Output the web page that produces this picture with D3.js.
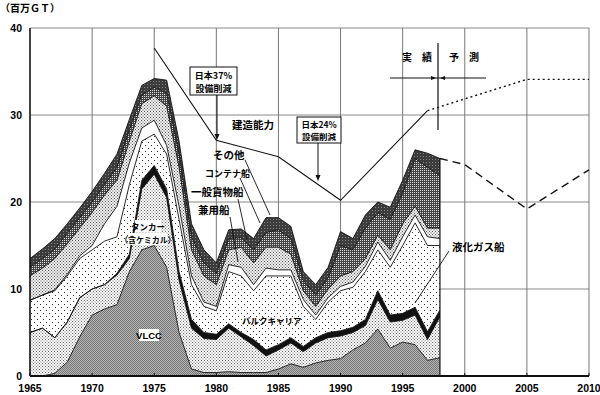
<!DOCTYPE html>
<html>
<head>
<meta charset="utf-8">
<script src="https://cdn.jsdelivr.net/npm/d3@7"></script>
<style>
body { margin:0; background:#fff; }
text { font-family: "Liberation Sans", "Noto Sans CJK JP", sans-serif; font-weight:bold; }
.jp { font-family: "Noto Sans CJK JP", sans-serif; }
</style>
</head>
<body>
<svg id="chart" width="600" height="395"></svg>
<script>

// years with actual figures
var years = [1965,1966,1967,1968,1969,1970,1971,1972,1973,1974,1975,1976,1977,1978,1979,1980,1981,
             1982,1983,1984,1985,1986,1987,1988,1989,1990,1991,1992,1993,1994,1995,1996,1997,1998];

// stacked series, bottom to top (百万GT)
var vlcc      = [0,0,0.3,1.6,4.5,7.0,7.7,8.2,12.0,14.5,15.0,12.5,5.0,0.8,0.4,0.4,0.5,0.4,0.4,0.4,0.8,1.4,1.0,1.5,1.8,2.0,3.0,3.8,5.4,3.2,3.9,3.6,1.8,2.1];
var tanker    = [5.0,5.5,4.1,4.6,4.5,3.0,2.8,3.4,1.5,7.0,8.2,8.0,6.0,4.7,3.9,3.8,5.0,4.1,3.1,1.9,2.2,2.4,1.8,2.3,2.6,2.6,2.0,2.0,3.4,3.0,2.5,3.4,2.4,4.7];
var lng       = [0,0,0,0,0,0,0,0.2,0.5,1.0,1.0,1.0,1.0,1.0,0.7,0.6,0.5,0.5,0.7,0.7,0.6,0.6,0.6,0.6,0.6,0.6,0.6,0.7,1.0,0.8,0.8,0.9,0.9,0.8];
var bulk      = [3.7,3.8,5.4,5.3,4.5,4.5,5.0,4.2,8.0,4.5,3.6,4.0,6.0,4.0,3.0,2.7,6.0,6.5,5.6,8.5,7.9,7.1,4.6,2.1,3.5,4.6,4.6,5.5,4.7,5.5,7.8,9.7,9.9,7.4];
var combo     = [0,0,0.1,0.2,0.3,0.5,2.0,3.5,2.5,1.5,1.6,1.0,1.5,1.0,0.5,0.5,0.8,1.0,0.7,0.9,0.7,0.7,0.8,0.5,0.5,0.5,0.6,0.6,0.9,0.8,1.0,0.9,1.0,0.8];
var general   = [2.8,3.1,3.6,3.5,3.2,3.8,3.3,3.0,2.5,2.8,2.8,4.5,4.5,3.0,3.0,2.5,1.7,2.3,2.5,2.4,2.6,1.8,1.0,1.0,1.0,1.2,1.2,0.9,0.8,1.2,1.5,1.0,1.0,1.2];
var container = [1.0,1.1,1.1,1.2,1.2,1.2,1.2,1.5,1.3,1.0,1.0,1.5,1.5,1.5,1.5,1.3,1.3,1.1,1.5,1.7,2.0,1.8,1.2,1.3,1.3,3.5,2.5,3.5,2.6,3.5,3.5,5.5,7.0,6.0];
var other     = [1.0,1.1,1.2,1.1,1.1,1.2,1.3,1.5,1.2,1.1,1.0,1.5,1.5,1.5,1.5,1.2,1.0,1.0,1.3,1.7,1.4,1.4,1.0,1.2,1.2,1.6,1.3,1.5,1.2,1.4,1.5,1.0,1.6,2.0];

// 建造能力 (actual) and forecasts
var capYears = [1975,1980,1985,1990,1997];
var capValues = [37.7,27.1,25.2,20.2,30.5];
var capFcYears = [1997,2005,2010];
var capFcValues = [30.5,34.1,34.1];
var demFcYears = [1998,2000,2005,2010];
var demFcValues = [25.0,24.3,19.2,23.7];

var xTicks = [1965,1970,1975,1980,1985,1990,1995,2000,2005,2010];
var yTicks = [0,10,20,30,40];

var keys = ['vlcc','tanker','lng','bulk','combo','general','container','other'];
var seriesData = {vlcc:vlcc, tanker:tanker, lng:lng, bulk:bulk, combo:combo, general:general, container:container, other:other};

var table = years.map(function(yr, i){
    var row = {year: yr};
    keys.forEach(function(k){ row[k] = seriesData[k][i]; });
    return row;
});

var svg = d3.select('#chart');
var mL = 30, mR = 589, mT = 28, mB = 376;

var x = d3.scaleLinear().domain([1965,2010]).range([mL,mR]);
var y = d3.scaleLinear().domain([0,40]).range([mB,mT]);

// patterns
var defs = svg.append('defs');
function dotPattern(id, size, bg, col, r, pts){
    var p = defs.append('pattern').attr('id', id).attr('patternUnits','userSpaceOnUse')
        .attr('width', size).attr('height', size);
    p.append('rect').attr('width', size).attr('height', size).attr('fill', bg);
    pts.forEach(function(pt){
        p.append('rect').attr('x', pt[0]).attr('y', pt[1]).attr('width', r).attr('height', r).attr('fill', col);
    });
}
dotPattern('pVlcc', 2, '#b4b4b4', '#777', 1, [[0,0],[1,1]]);
dotPattern('pTanker', 3, '#fff', '#666', 1, [[0,0],[1.5,1.5]]);
dotPattern('pBulk', 6, '#fff', '#333', 1, [[1,1],[4,4]]);
dotPattern('pGeneral', 3, '#f0f0f0', '#555', 1, [[0,0],[1.5,1.5]]);
dotPattern('pContainer', 2, '#444', '#ddd', 1, [[0,0]]);
dotPattern('pOther', 3, '#3c3c3c', '#888', 1, [[0,0]]);

var fills = {
    vlcc: 'url(#pVlcc)', tanker: 'url(#pTanker)', lng: '#111', bulk: 'url(#pBulk)',
    combo: '#fff', general: 'url(#pGeneral)', container: 'url(#pContainer)', other: 'url(#pOther)'
};

// grid
var grid = svg.append('g');
[10,20,30,40].forEach(function(v){
    grid.append('line').attr('x1', mL).attr('x2', mR).attr('y1', y(v)).attr('y2', y(v))
        .attr('stroke', '#888').attr('stroke-width', 1);
});
xTicks.slice(1).forEach(function(v){
    grid.append('line').attr('x1', x(v)).attr('x2', x(v)).attr('y1', mT).attr('y2', mB)
        .attr('stroke', '#777').attr('stroke-width', 1);
});

// stacked areas
var stack = d3.stack().keys(keys);
var layers = stack(table);

var area = d3.area()
    .x(function(d){ return x(d.data.year); })
    .y0(function(d){ return y(d[0]); })
    .y1(function(d){ return y(d[1]); });
var topLine = d3.line()
    .x(function(d){ return x(d.data.year); })
    .y(function(d){ return y(d[1]); });

svg.append('g').selectAll('path')
    .data(layers)
    .enter().append('path')
    .attr('d', area)
    .attr('fill', function(d){ return fills[d.key]; });

svg.append('g').selectAll('path')
    .data(layers)
    .enter().append('path')
    .attr('d', topLine)
    .attr('fill', 'none')
    .attr('stroke', '#111')
    .attr('stroke-width', 0.9);

// right edge of actual data
svg.append('line').attr('x1', x(1998)).attr('x2', x(1998))
    .attr('y1', y(0)).attr('y2', y(d3.sum(keys, function(k){ return seriesData[k][years.length-1]; })))
    .attr('stroke', '#111').attr('stroke-width', 1.2);

// 建造能力
var line = d3.line().x(function(d){ return x(d[0]); }).y(function(d){ return y(d[1]); });
svg.append('path').attr('d', line(d3.zip(capYears, capValues)))
    .attr('fill','none').attr('stroke','#111').attr('stroke-width',1.1);
svg.append('path').attr('d', line(d3.zip(capFcYears, capFcValues)))
    .attr('fill','none').attr('stroke','#111').attr('stroke-width',1.4).attr('stroke-dasharray','2,3');
svg.append('path').attr('d', line(d3.zip(demFcYears, demFcValues)))
    .attr('fill','none').attr('stroke','#111').attr('stroke-width',1.4).attr('stroke-dasharray','8,5');

// frame
svg.append('line').attr('x1', mL).attr('x2', mL).attr('y1', mT).attr('y2', mB)
    .attr('stroke','#111').attr('stroke-width',1.6);
svg.append('line').attr('x1', mL).attr('x2', mR).attr('y1', mB).attr('y2', mB)
    .attr('stroke','#111').attr('stroke-width',1.8);

// axes labels
svg.append('g').selectAll('text').data(yTicks).enter().append('text')
    .attr('x', 22).attr('y', function(d){ return y(d) + 4; })
    .attr('text-anchor','end').attr('font-size', 10.5)
    .text(function(d){ return d; });
svg.append('g').selectAll('text').data(xTicks).enter().append('text')
    .attr('x', function(d){ return x(d); }).attr('y', 392)
    .attr('text-anchor','middle').attr('font-size', 10.5)
    .text(function(d){ return d; });
svg.append('g').selectAll('line').data(xTicks).enter().append('line')
    .attr('x1', function(d){ return x(d); }).attr('x2', function(d){ return x(d); })
    .attr('y1', mB).attr('y2', mB - 3).attr('stroke','#111');

svg.append('text').attr('class','jp').attr('x', 0).attr('y', 12).attr('font-size', 10).text('（百万ＧＴ）');

// annotation helper
function label(txt, xx, yy, size, anchor){
    return svg.append('text').attr('class','jp').attr('x', xx).attr('y', yy)
        .attr('font-size', size).attr('text-anchor', anchor || 'start').text(txt);
}
function seg(x1, y1, x2, y2, w){
    svg.append('line').attr('x1',x1).attr('y1',y1).attr('x2',x2).attr('y2',y2)
        .attr('stroke','#111').attr('stroke-width', w || 0.9);
}
function arrowDown(xx, yy){
    svg.append('path').attr('d','M'+(xx-2.5)+','+(yy-6)+'L'+(xx+2.5)+','+(yy-6)+'L'+xx+','+yy+'Z').attr('fill','#111');
}

// 日本37% box
svg.append('rect').attr('x',190).attr('y',67).attr('width',47).attr('height',28)
    .attr('fill','#fff').attr('stroke','#111').attr('stroke-width',1);
label('日本37%', 213.5, 79, 9, 'middle');
label('設備削減', 213.5, 92, 9, 'middle');
seg(217, 95, 217, 136, 1);
arrowDown(217, 140);

// 日本24% box
svg.append('rect').attr('x',297).attr('y',117).attr('width',44).attr('height',26)
    .attr('fill','#fff').attr('stroke','#111').attr('stroke-width',1);
label('日本24%', 319, 128, 8.5, 'middle');
label('設備削減', 319, 140, 8.5, 'middle');
seg(318, 143, 318, 176, 1);
arrowDown(318, 181);

label('建造能力', 232, 129, 10.5);

// 実績 / 予測
seg(438, 43, 438, 130, 1.2);
seg(390, 78, 486, 78, 1.2);
label('実　績', 402, 61, 10);
label('予　測', 449, 61, 10);
svg.append('path').attr('d','M431,76L436,78L431,80Z').attr('fill','#111');
svg.append('path').attr('d','M445,76L440,78L445,80Z').attr('fill','#111');

// series labels with leaders
label('その他', 213, 159, 10.5);
seg(245, 160, 270, 215);
label('コンテナ船', 205, 177, 9);
seg(240, 178, 260, 223);
label('一般貨物船', 191, 196, 10.5);
seg(238, 199, 247, 240);
label('兼用船', 198, 214, 10.5);
seg(230, 217, 238, 262);

svg.append('rect').attr('x',135).attr('y',220).attr('width',26).attr('height',12).attr('fill','#fff');
label('タンカー', 148, 230, 8.5, 'middle');
svg.append('rect').attr('x',129).attr('y',233).attr('width',38).attr('height',12).attr('fill','#fff');
label('（含ケミカル）', 148, 243, 8, 'middle');

svg.append('rect').attr('x',139).attr('y',329).attr('width',20).attr('height',12).attr('fill','#fff');
svg.append('text').attr('x',149).attr('y',339).attr('font-size',9.5).attr('text-anchor','middle').text('VLCC');

label('バルクキャリア', 242, 324, 8.5);

label('液化ガス船', 452, 251, 10.5);
seg(449, 251, 415, 303);

</script>
</body>
</html>
